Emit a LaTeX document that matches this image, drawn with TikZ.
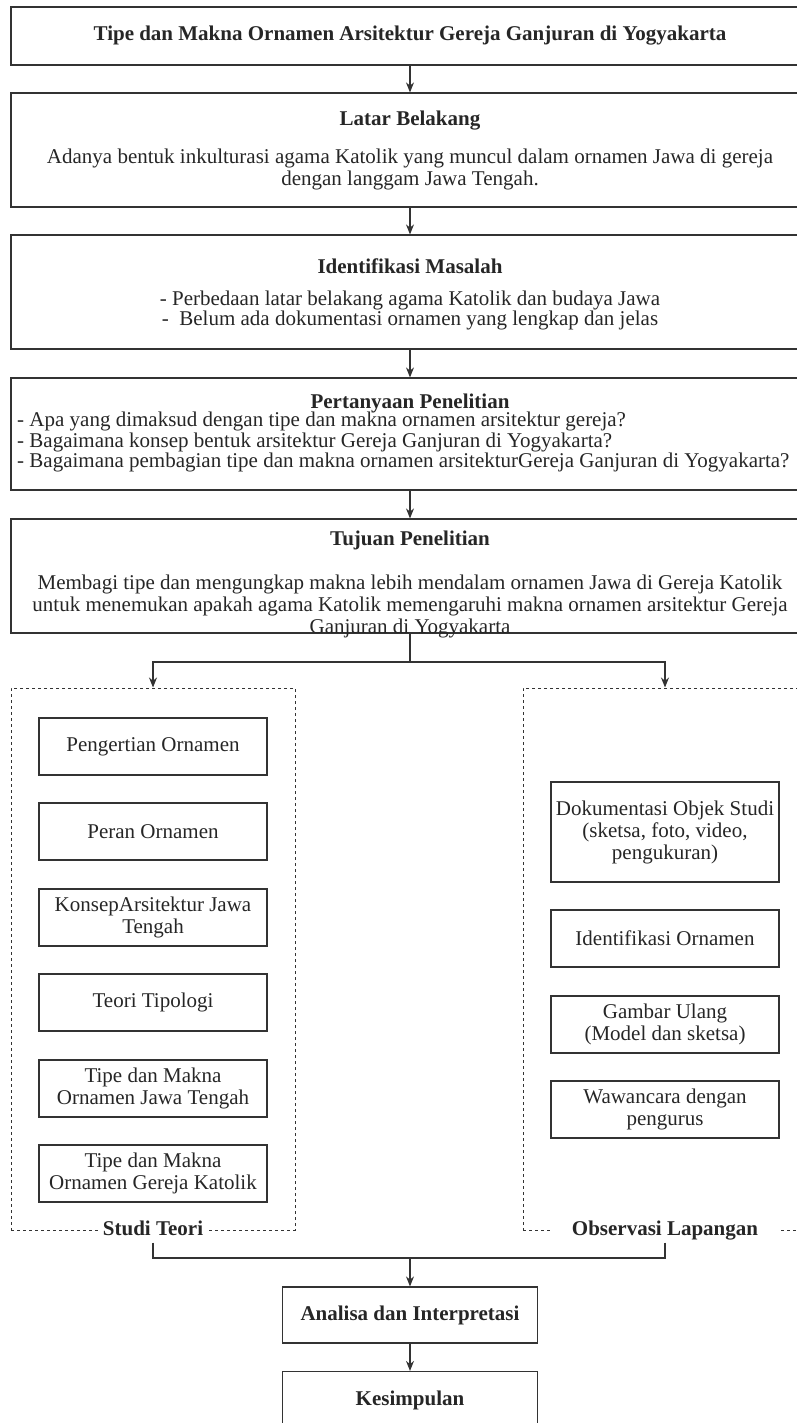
\documentclass[tikz,border=0pt]{standalone}
\usepackage{fontspec}
\setmainfont{Liberation Serif}
\usetikzlibrary{arrows.meta}

\tikzset{
  kotakutama/.style={draw=black!80, line width=1.2pt, minimum width=798pt, inner sep=0pt, align=center},
  kotak/.style={draw=black!80, line width=1.2pt, minimum width=228pt, minimum height=57pt, inner sep=0pt, align=center},
  wadah/.style={draw=black!80, line width=1pt, dash pattern=on 3pt off 3pt, minimum width=284pt, minimum height=542pt, inner sep=0pt},
  judulwadah/.style={fill=white, inner xsep=5pt, inner ysep=3pt, text height=14pt, text depth=4pt, font=\fontsize{21}{22}\selectfont\bfseries},
  panah/.style={draw=black!80, line width=1.2pt, -{Stealth[length=10pt,width=8pt]}},
  garis/.style={draw=black!80, line width=1.2pt},
}

\begin{document}
\begin{tikzpicture}[x=1pt, y=-1pt, font=\fontsize{21}{22}\selectfont, text=black!85]
  \useasboundingbox (0,0) rectangle (797,1423);
  \clip (0,0) rectangle (797,1423);

  % kotak utama
  \node[kotakutama, minimum height=58pt, font=\fontsize{21}{22}\selectfont\bfseries] (judul) at (410,36)
    {Tipe dan Makna Ornamen Arsitektur Gereja Ganjuran di Yogyakarta};
  \node[kotakutama, minimum height=114pt] (latar) at (410,150)
    {\textbf{Latar Belakang}\\[16pt]Adanya bentuk inkulturasi agama Katolik yang muncul dalam ornamen Jawa di gereja\\dengan langgam Jawa Tengah.};
  \node[kotakutama, minimum height=114pt, text depth=0pt, font=\fontsize{21}{20}\selectfont] (identifikasi) at (410,292)
    {\textbf{Identifikasi Masalah}\\[12pt]- Perbedaan latar belakang agama Katolik dan budaya Jawa\\-\ \ Belum ada dokumentasi ornamen yang lengkap dan jelas};

  \node[kotakutama, minimum height=112pt] (pertanyaan) at (410,434) {};
  \node[inner sep=0pt, font=\fontsize{21}{19}\selectfont\bfseries] (pertanyaanjudul) at (410,403) {Pertanyaan Penelitian};
  \node[inner sep=0pt, anchor=west, align=left, font=\fontsize{21}{19}\selectfont] (pertanyaanisi) at (17,442)
    {- Apa yang dimaksud dengan tipe dan makna ornamen arsitektur gereja?\\
     - Bagaimana konsep bentuk arsitektur Gereja Ganjuran di Yogyakarta?\\
     - Bagaimana pembagian tipe dan makna ornamen arsitekturGereja Ganjuran di Yogyakarta?};

  \node[kotakutama, minimum height=114pt] (tujuan) at (410,576) {};
  \node[inner sep=0pt, font=\fontsize{21}{22}\selectfont\bfseries] (tujuanjudul) at (410,540) {Tujuan Penelitian};
  \node[inner sep=0pt, align=center] (tujuanisi) at (410,606)
    {Membagi tipe dan mengungkap makna lebih mendalam ornamen Jawa di Gereja Katolik\\
     untuk menemukan apakah agama Katolik memengaruhi makna ornamen arsitektur Gereja\\
     Ganjuran di Yogyakarta};

  % dua wadah
  \node[wadah] (studi) at (153,959) {};
  \node[wadah] (observasi) at (665,959) {};

  \foreach \nama/\posy/\isi in {pengertian/746.5/{Pengertian Ornamen},
                               peran/831.5/{Peran Ornamen},
                               konsep/917.5/{KonsepArsitektur Jawa\\Tengah},
                               tipologi/1002.5/{Teori Tipologi},
                               jawa/1088.5/{Tipe dan Makna\\Ornamen Jawa Tengah},
                               katolik/1173.5/{Tipe dan Makna\\Ornamen Gereja Katolik}}
    \node[kotak] (\nama) at (153,\posy) {\isi};

  \node[kotak, minimum height=100pt] (dokumentasi) at (665,832) {Dokumentasi Objek Studi\\(sketsa, foto, video,\\pengukuran)};
  \node[kotak] (identornamen) at (665,938.5) {Identifikasi Ornamen};
  \node[kotak] (gambarulang) at (665,1024.5) {Gambar Ulang\\(Model dan sketsa)};
  \node[kotak] (wawancara) at (665,1109.5) {Wawancara dengan\\pengurus};

  \node[judulwadah] (studilabel) at (studi.south) {Studi Teori};
  \node[judulwadah, minimum width=228pt] (observasilabel) at (observasi.south) {Observasi Lapangan};

  % bagian bawah
  \node[kotak, minimum width=255pt, minimum height=56pt, font=\fontsize{21}{22}\selectfont\bfseries] (analisa) at (410,1315) {Analisa dan Interpretasi};
  \node[kotak, minimum width=255pt, minimum height=57pt, font=\fontsize{21}{22}\selectfont\bfseries] (kesimpulan) at (410,1400) {Kesimpulan};

  % panah
  \draw[panah] (judul.south) -- (latar.north);
  \draw[panah] (latar.south) -- (identifikasi.north);
  \draw[panah] (identifikasi.south) -- (pertanyaan.north);
  \draw[panah] (pertanyaan.south) -- (tujuan.north);
  \coordinate (cabang) at (410,662);
  \draw[garis] (tujuan.south) -- (cabang);
  \draw[panah] (cabang) -| (studi.north);
  \draw[panah] (cabang) -| (observasi.north);
  \coordinate (gabung) at (410,1258);
  \draw[garis] (studilabel.south) |- (gabung);
  \draw[garis] (observasilabel.south) |- (gabung);
  \draw[panah] (gabung) -- (analisa.north);
  \draw[panah] (analisa.south) -- (kesimpulan.north);
\end{tikzpicture}
\end{document}
